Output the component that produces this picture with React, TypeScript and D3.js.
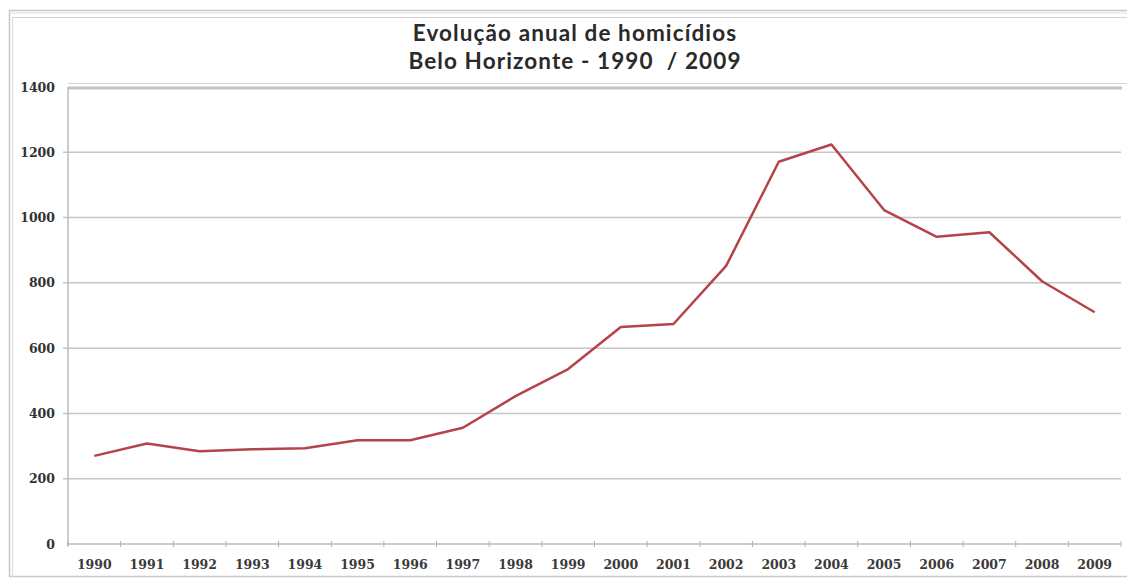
import React from "react";
import * as d3 from "d3";

const years = ["1990","1991","1992","1993","1994","1995","1996","1997","1998","1999","2000","2001","2002","2003","2004","2005","2006","2007","2008","2009"];
const homicides = [270, 308, 284, 290, 293, 318, 318, 356, 453, 536, 665, 674, 852, 1171, 1224, 1023, 941, 955, 805, 710];
const yTicks = [0, 200, 400, 600, 800, 1000, 1200, 1400];
const titleLines = ["Evolução anual de homicídios", "Belo Horizonte - 1990  / 2009"];

export default function App() {
  const W = 1127, H = 579;
  const left = 68, right = 1121, top = 87, bottom = 544;
  const x = d3.scaleBand<string>().domain(years).range([left, right]);
  const y = d3.scaleLinear().domain([0, 1400]).range([bottom, top]);
  const line = d3.line<number>()
    .x((_, i) => (x(years[i]) as number) + x.bandwidth() / 2)
    .y((d) => y(d));
  const boundaries = years.map((yr) => x(yr) as number).concat([right]);
  return (
    <svg width={W} height={H} style={{ position: "absolute", left: 0, top: 0, background: "#fff" }}>
      {/* outer frame */}
      <rect x={9.5} y={10.5} width={1125} height={566} fill="none" stroke="#c8c8c8" strokeWidth={1.5} />
      <line x1={9} x2={1127} y1={13} y2={13} stroke="#dcdcdc" strokeWidth={1} />
      <line x1={12} x2={1127} y1={17.5} y2={17.5} stroke="#d0d0d0" strokeWidth={1} />
      <line x1={12.5} x2={12.5} y1={17} y2={577} stroke="#dcdcdc" strokeWidth={1} />
      {/* title */}
      {titleLines.map((t, i) => (
        <text key={i} x={575} y={41 + i * 27.5} textAnchor="middle" fontFamily="Lato, sans-serif" fontWeight={700} fontSize={22.5} letterSpacing={1.1} fill="#2a2a2a" style={{ whiteSpace: "pre" }}>{t}</text>
      ))}
      {/* plot top border */}
      <line x1={68} x2={1127} y1={83.5} y2={83.5} stroke="#d4d4d4" strokeWidth={1} />
      <line x1={68} x2={1122} y1={88} y2={88} stroke="#c4c4c4" strokeWidth={3} />
      {/* gridlines */}
      {yTicks.filter((t) => t > 0 && t < 1400).map((t) => (
        <line key={t} x1={63} x2={right} y1={y(t)} y2={y(t)} stroke="#c6c6c6" strokeWidth={1.5} />
      ))}
      {/* y axis */}
      <line x1={left} x2={left} y1={top} y2={bottom + 2} stroke="#bdbdbd" strokeWidth={1.5} />
      {yTicks.map((t) => (
        <text key={t} x={55} y={y(t) + 4.5} textAnchor="end" fontFamily="'DejaVu Serif', serif" fontWeight="bold" fontSize={12.5} fill="#333">{t}</text>
      ))}
      {/* x axis */}
      <line x1={left} x2={right} y1={bottom} y2={bottom} stroke="#9a9a9a" strokeWidth={1.2} />
      {boundaries.map((bx, i) => (
        <line key={i} x1={bx} x2={bx} y1={bottom - 3} y2={bottom + 3} stroke="#b0b0b0" strokeWidth={1} />
      ))}
      {years.map((yr) => (
        <text key={yr} x={(x(yr) as number) + x.bandwidth() / 2} y={bottom + 25} textAnchor="middle" fontFamily="'DejaVu Serif', serif" fontWeight="bold" fontSize={12.5} fill="#3a3a3a">{yr}</text>
      ))}
      {/* series */}
      <path d={line(homicides) || ""} fill="none" stroke="#b4434a" strokeWidth={2.5} strokeLinejoin="round" />
    </svg>
  );
}
